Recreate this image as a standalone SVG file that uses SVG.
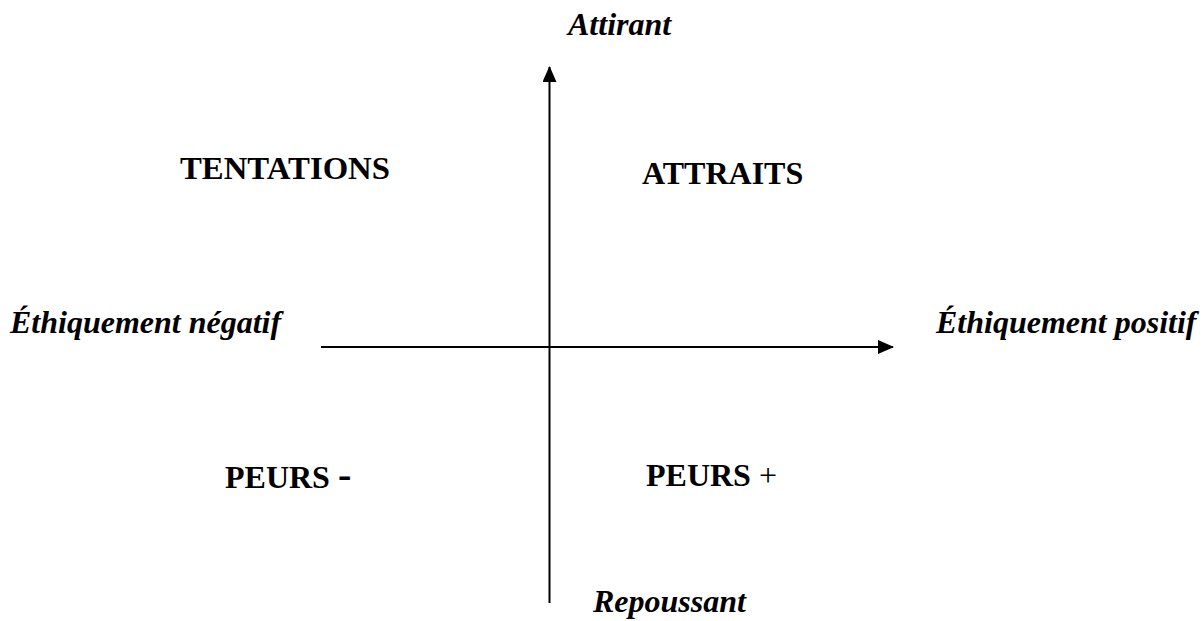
<svg xmlns="http://www.w3.org/2000/svg" width="1204" height="621" viewBox="0 0 1204 621">
<style>
.t{font-family:"Liberation Serif","Times New Roman",serif;font-size:32px;fill:#000}
.b{font-weight:bold}
.bi{font-weight:bold;font-style:italic}
.ax{stroke:#000;stroke-width:2;fill:none}
</style>
<defs>
<marker id="ah" markerWidth="16" markerHeight="14" refX="15" refY="7" orient="auto" markerUnits="userSpaceOnUse">
<path d="M0,0 L16,7 L0,14 Z" fill="#000"/>
</marker>
</defs>
<rect width="1204" height="621" fill="#fff"/>
<g id="connectors">
<line class="ax" x1="549.5" y1="603" x2="549.5" y2="67" marker-end="url(#ah)"/>
<line class="ax" x1="321" y1="347" x2="893" y2="347" marker-end="url(#ah)"/>
</g>
<g id="attirant"><text class="t bi" x="568" y="35">Attirant</text></g>
<g id="repoussant"><text class="t bi" x="593" y="612">Repoussant</text></g>
<g id="negatif"><text class="t bi" x="10" y="333">Éthiquement négatif</text></g>
<g id="positif"><text class="t bi" x="936" y="333">Éthiquement positif</text></g>
<g id="tentations"><text class="t b" x="180" y="179" textLength="210" lengthAdjust="spacingAndGlyphs">TENTATIONS</text></g>
<g id="attraits"><text class="t b" x="642" y="184">ATTRAITS</text></g>
<g id="peurs-moins"><text class="t b" x="225" y="488">PEURS <tspan style="font-size:40px">-</tspan></text></g>
<g id="peurs-plus"><text class="t" x="646" y="486"><tspan class="b">PEURS</tspan> +</text></g>
</svg>
